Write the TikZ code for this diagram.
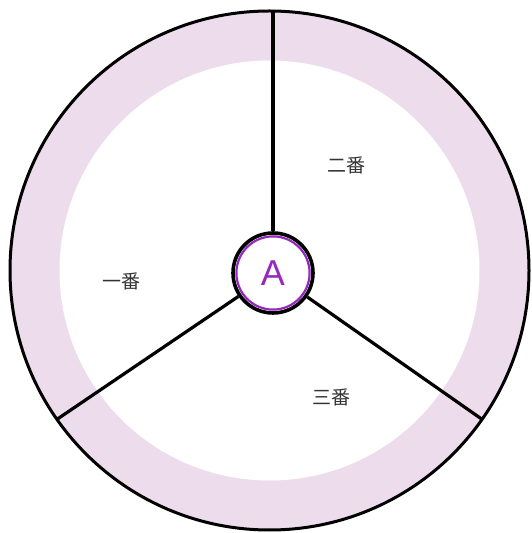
\documentclass[tikz,border=0pt]{standalone}
\usepackage{fontspec}
\setsansfont{Liberation Sans}
\newfontfamily\cjk{Noto Sans CJK JP}
\definecolor{ringpink}{RGB}{237,221,236}
\definecolor{hubpurple}{RGB}{150,40,190}
\tikzset{
  spoke/.style={draw=black, line width=3.2pt},
  ban/.style={font=\cjk\fontsize{19}{19}\selectfont, text=black!80, inner sep=0pt}
}
\begin{document}
\begin{tikzpicture}[x=1pt, y=1pt]
\useasboundingbox (0,0) rectangle (531,533);
% Outer ring
\coordinate (O) at (269.5,262.5);
\filldraw[fill=ringpink, draw=black, line width=3pt] (O) circle (259.5);
\fill[white] (O) circle (210);

% Hub
\node[circle, draw=black, fill=white, line width=3.6pt, minimum size=80pt, inner sep=0pt,
      text=hubpurple, font=\sffamily\fontsize{36}{36}\selectfont] (hub) at (273,260) {A};
\draw[hubpurple, line width=2.2pt] (hub.center) circle (36.6);

% Spokes
\coordinate (top) at (273,523);
\coordinate (left) at ([shift={(-145:260)}]O);
\coordinate (right) at ([shift={(-35:260)}]O);
\draw[spoke] (hub) -- (top);
\draw[spoke] (hub) -- (left);
\draw[spoke] (hub) -- (right);

% Labels
\node[ban] (ichi) at (121,252) {一番};
\node[ban] (ni) at (346,368) {二番};
\node[ban] (san) at (331,136) {三番};
\end{tikzpicture}
\end{document}
